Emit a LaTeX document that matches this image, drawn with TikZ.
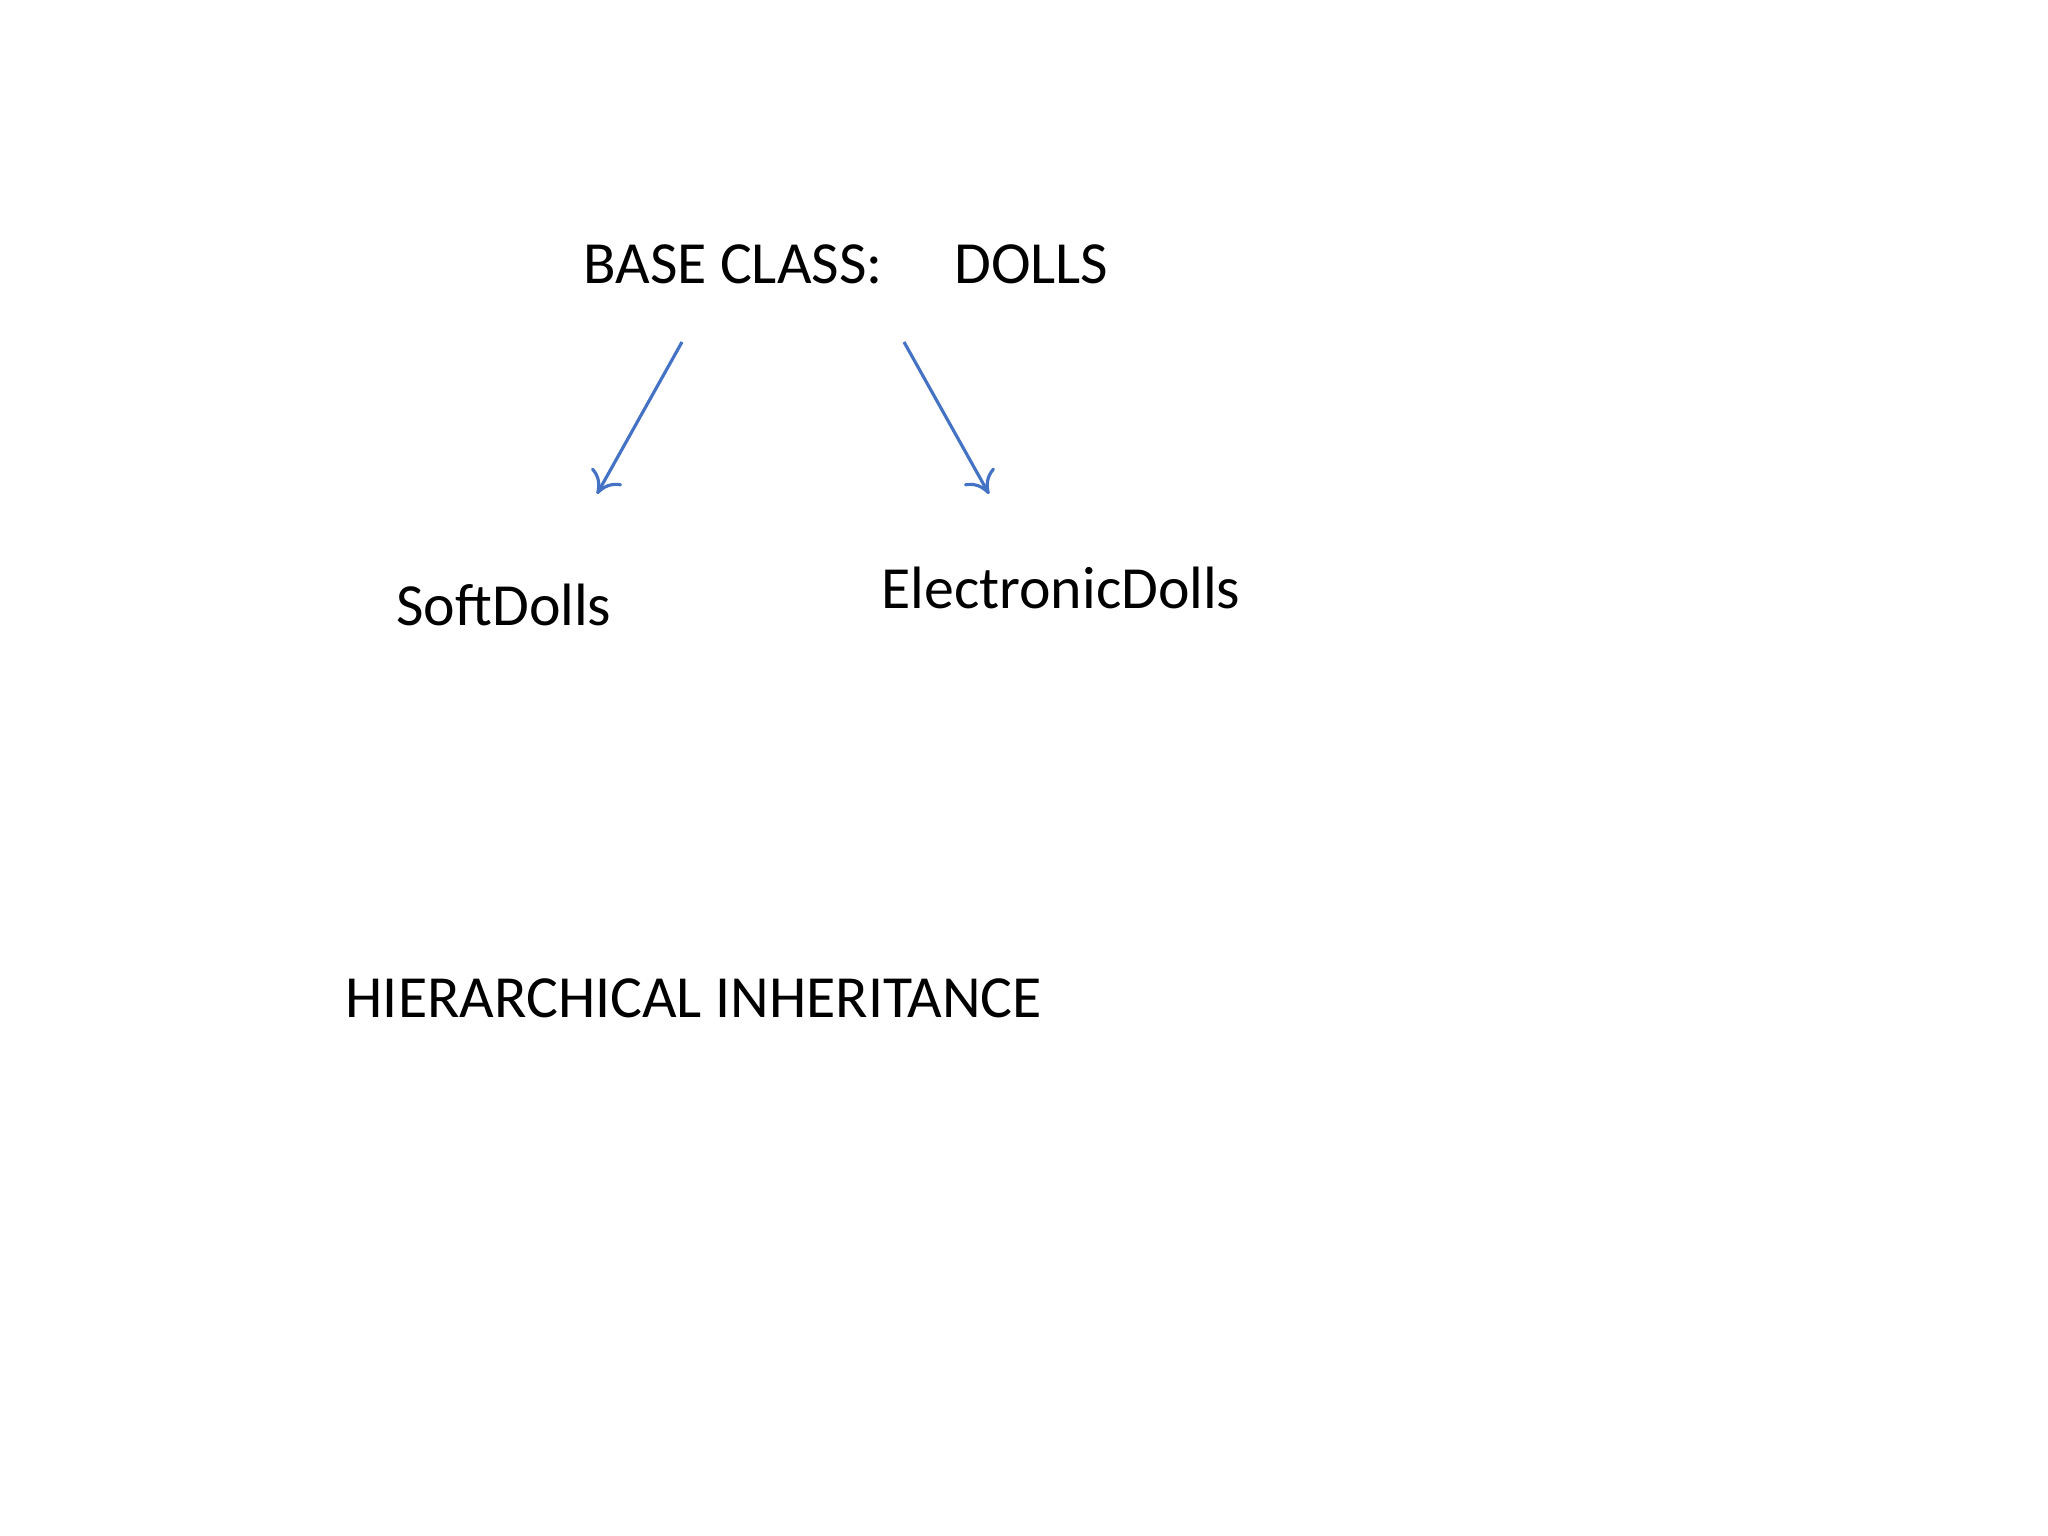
\documentclass[tikz,border=0pt]{standalone}
\usepackage{fontspec}
\setmainfont{Carlito}
\usetikzlibrary{arrows.meta}
\definecolor{arrblue}{RGB}{68,114,196}
\begin{document}
\begin{tikzpicture}[x=0.01cm,y=-0.01cm,
  lbl/.style={font=\fontsize{17pt}{20pt}\selectfont, inner sep=0pt},
  conn/.style={draw=arrblue, line width=0.9pt, -{To[length=6pt,width=10pt]}}]
\useasboundingbox (0,0) rectangle (2048,1536);
\node[lbl] (base) at (846,264) {BASE CLASS:\hspace{1.2em}DOLLS};
\node[lbl] (soft) at (504,605) {SoftDolls};
\node[lbl] (elec) at (1061,588) {ElectronicDolls};
\node[lbl,anchor=west] (hier) at (345,998) {HIERARCHICAL INHERITANCE};
\coordinate (a1) at (682,342);
\coordinate (a2) at (597,494);
\coordinate (b1) at (904,342);
\coordinate (b2) at (989,494);
\draw[conn] (a1) -- (a2);
\draw[conn] (b1) -- (b2);
\end{tikzpicture}
\end{document}
